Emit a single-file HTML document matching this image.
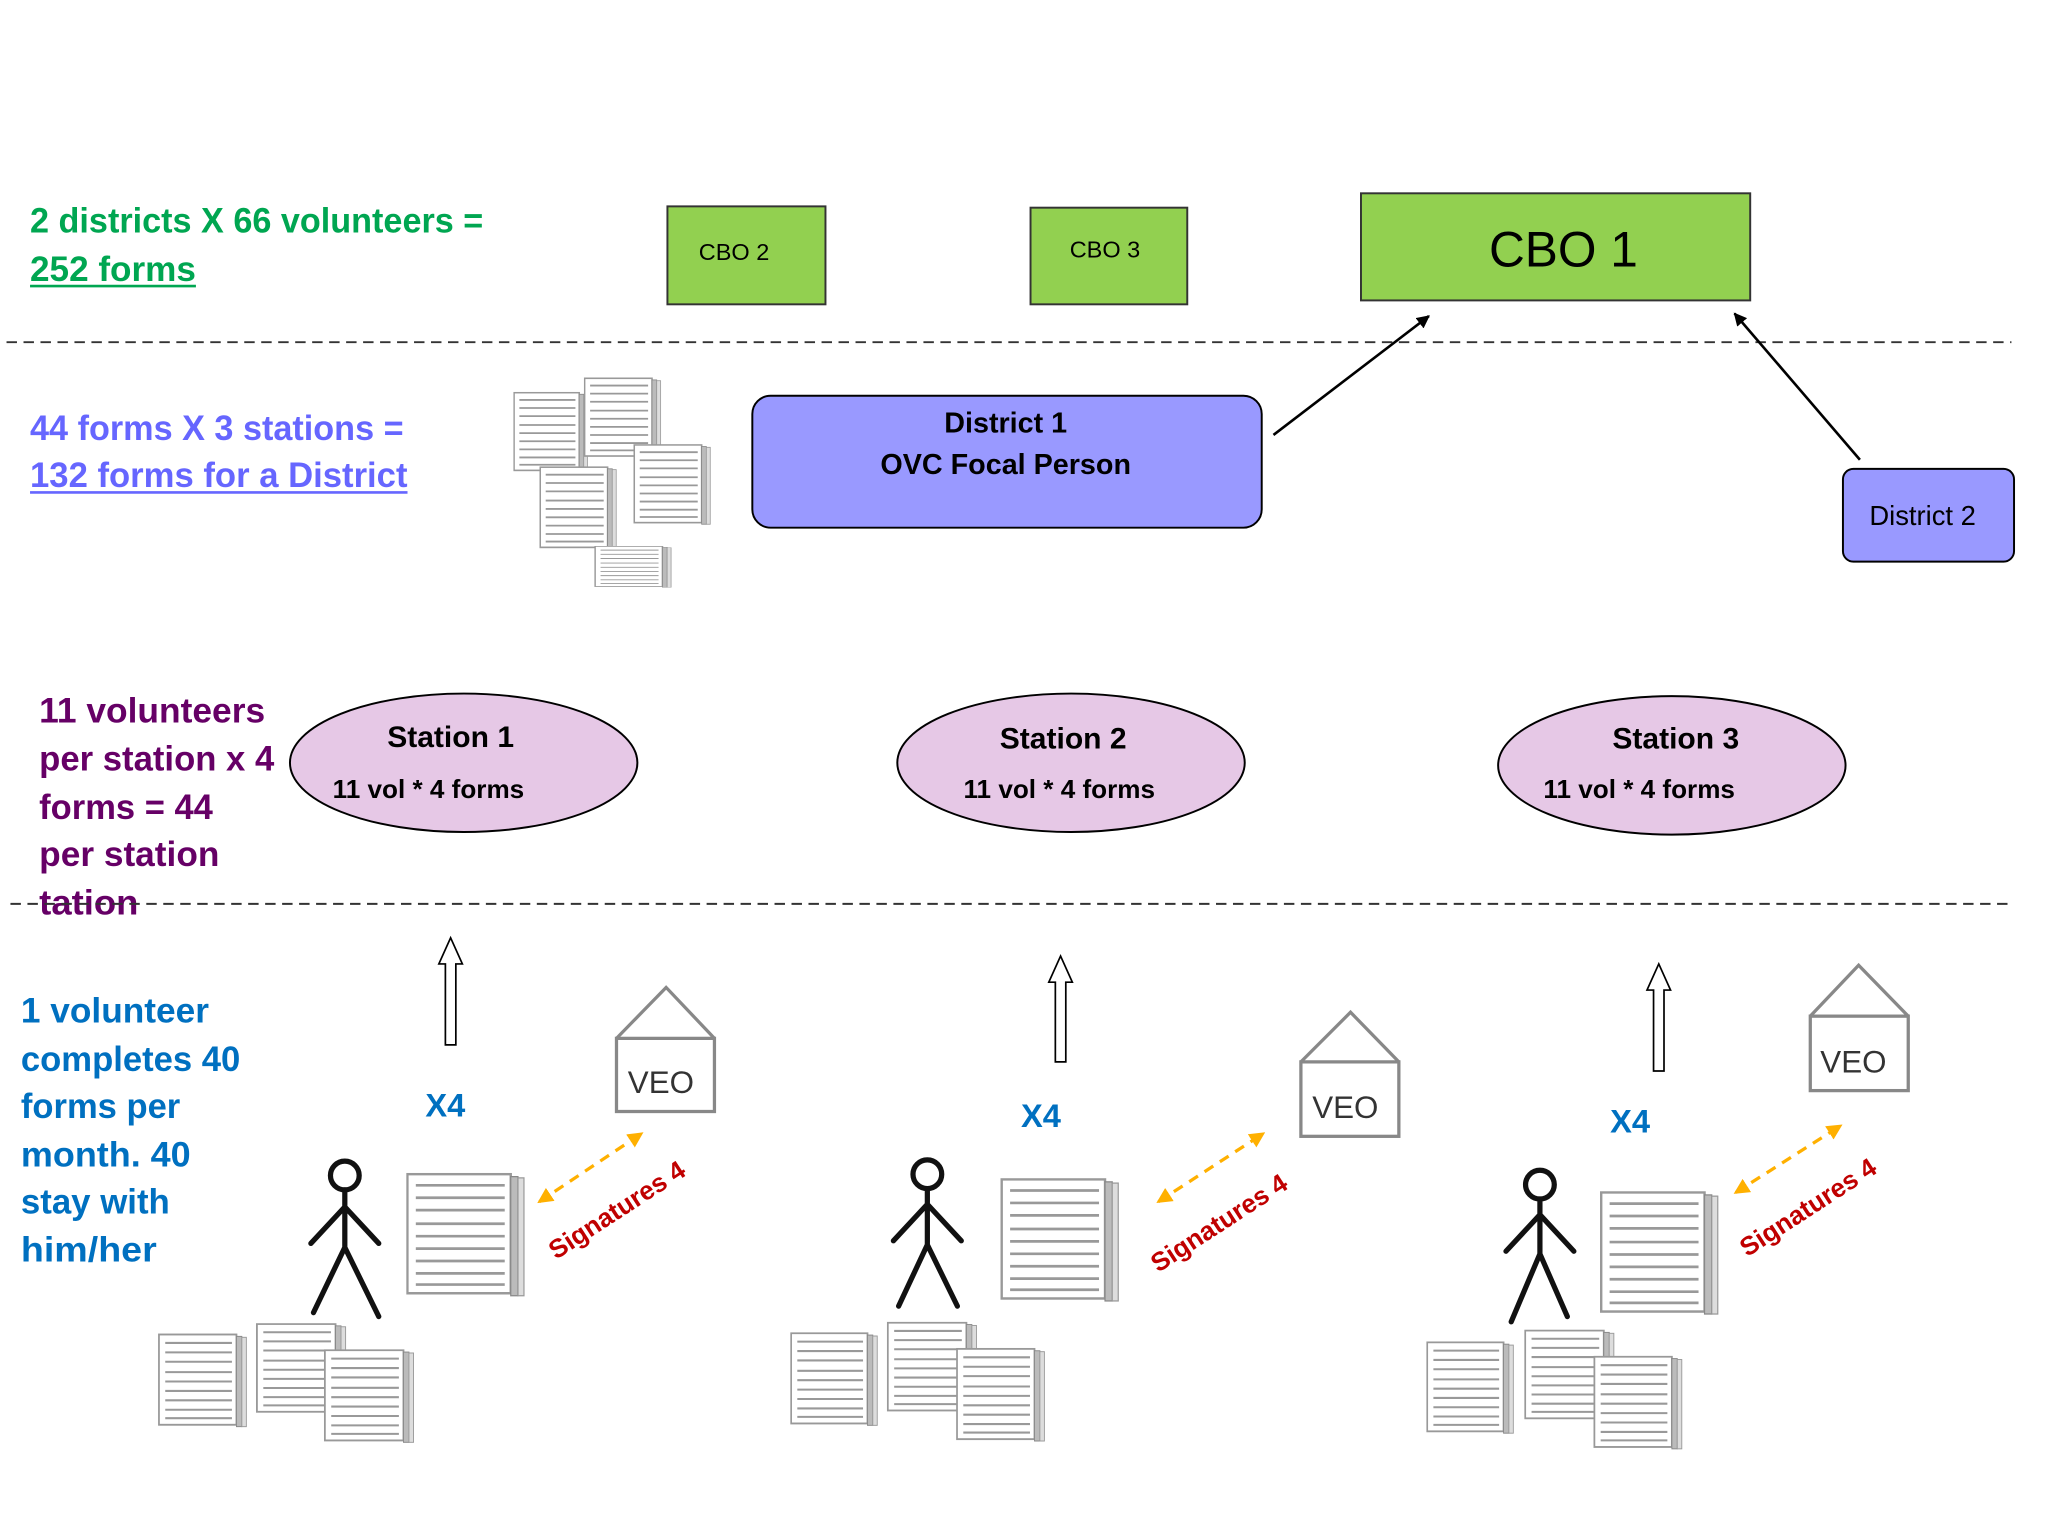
<!DOCTYPE html>
<html><head><meta charset="utf-8"><style>
html,body{margin:0;padding:0;background:#fff;}
svg{display:block;}
text{font-family:"Liberation Sans",sans-serif;}
</style></head><body>
<svg width="2048" height="1536" viewBox="0 0 1568 1176" xmlns="http://www.w3.org/2000/svg">
<defs>
<symbol id="doc" viewBox="0 0 100 100" preserveAspectRatio="none">
<rect x="1" y="1" width="86" height="96" fill="#fff" stroke="#999" stroke-width="2"/>
<g stroke="#999" stroke-width="2.2">
<line x1="8" y1="10" x2="82" y2="10"/><line x1="8" y1="20" x2="82" y2="20"/><line x1="8" y1="30" x2="82" y2="30"/>
<line x1="8" y1="41" x2="82" y2="41"/><line x1="8" y1="51" x2="82" y2="51"/><line x1="8" y1="61" x2="82" y2="61"/>
<line x1="8" y1="71" x2="82" y2="71"/><line x1="8" y1="81" x2="82" y2="81"/><line x1="8" y1="90" x2="82" y2="90"/>
</g>
<rect x="87" y="3" width="6" height="96" fill="#bbb" stroke="#888" stroke-width="1"/>
<rect x="93" y="4" width="5" height="95" fill="#ddd" stroke="#999" stroke-width="1"/>
</symbol>
<marker id="ah" markerWidth="10" markerHeight="10" refX="9" refY="5" orient="auto" markerUnits="userSpaceOnUse"><path d="M0,0 L10,5 L0,10 z" fill="#000"/></marker>
<marker id="oa" markerWidth="12" markerHeight="12" refX="10" refY="6" orient="auto-start-reverse" markerUnits="userSpaceOnUse"><path d="M0,0 L12,6 L0,12 z" fill="#ffb000"/></marker>
</defs>

<!-- top texts -->
<g font-weight="bold" font-size="27">
<text x="23" y="178" fill="#00a651" textLength="347" lengthAdjust="spacingAndGlyphs">2 districts X 66 volunteers =</text>
<text x="23" y="215" fill="#00a651" textLength="127" lengthAdjust="spacingAndGlyphs">252 forms</text>
<line x1="23" y1="219" x2="150" y2="219" stroke="#00a651" stroke-width="2"/>
<text x="23" y="337" fill="#6666ff" textLength="286" lengthAdjust="spacingAndGlyphs">44 forms X 3 stations =</text>
<text x="23" y="373" fill="#6666ff" textLength="289" lengthAdjust="spacingAndGlyphs">132 forms for a District</text>
<line x1="23" y1="377" x2="312" y2="377" stroke="#6666ff" stroke-width="2"/>
<g fill="#660066">
<text x="30" y="553" textLength="173" lengthAdjust="spacingAndGlyphs">11 volunteers</text>
<text x="30" y="590" textLength="180" lengthAdjust="spacingAndGlyphs">per station x 4</text>
<text x="30" y="627" textLength="133" lengthAdjust="spacingAndGlyphs">forms = 44</text>
<text x="30" y="663" textLength="138" lengthAdjust="spacingAndGlyphs">per station</text>
<text x="30" y="700" textLength="76" lengthAdjust="spacingAndGlyphs">tation</text>
</g>
<g fill="#0070c0">
<text x="16" y="783" textLength="144" lengthAdjust="spacingAndGlyphs">1 volunteer</text>
<text x="16" y="820" textLength="168" lengthAdjust="spacingAndGlyphs">completes 40</text>
<text x="16" y="856" textLength="122" lengthAdjust="spacingAndGlyphs">forms per</text>
<text x="16" y="893" textLength="130" lengthAdjust="spacingAndGlyphs">month. 40</text>
<text x="16" y="929" textLength="114" lengthAdjust="spacingAndGlyphs">stay with</text>
<text x="16" y="966" textLength="104" lengthAdjust="spacingAndGlyphs">him/her</text>
</g>
</g>

<!-- dashed lines -->
<line x1="5" y1="262" x2="1540" y2="262" stroke="#333" stroke-width="1.5" stroke-dasharray="8,5"/>
<line x1="8" y1="692" x2="1542" y2="692" stroke="#333" stroke-width="1.5" stroke-dasharray="8,5"/>

<!-- CBOs -->
<rect x="511" y="158" width="121" height="75" fill="#92d050" stroke="#333" stroke-width="1.5"/>
<text x="562" y="199" font-size="18" text-anchor="middle">CBO 2</text>
<rect x="789" y="159" width="120" height="74" fill="#92d050" stroke="#333" stroke-width="1.5"/>
<text x="846" y="197" font-size="18" text-anchor="middle">CBO 3</text>
<rect x="1042" y="148" width="298" height="82" fill="#92d050" stroke="#333" stroke-width="1.5"/>
<text x="1197" y="204" font-size="38" text-anchor="middle">CBO 1</text>

<!-- districts -->
<rect x="576" y="303" width="390" height="101" rx="14" fill="#9999ff" stroke="#000" stroke-width="1.5"/>
<text x="770" y="331" font-size="22" font-weight="bold" text-anchor="middle">District 1</text>
<text x="770" y="363" font-size="22" font-weight="bold" text-anchor="middle">OVC Focal Person</text>
<rect x="1411" y="359" width="131" height="71" rx="8" fill="#9999ff" stroke="#000" stroke-width="1.5"/>
<text x="1472" y="402" font-size="21" text-anchor="middle">District 2</text>
<line x1="975" y1="333" x2="1094" y2="242" stroke="#000" stroke-width="2" marker-end="url(#ah)"/>
<line x1="1424" y1="352" x2="1328" y2="240" stroke="#000" stroke-width="2" marker-end="url(#ah)"/>

<!-- doc cluster -->
<use href="#doc" x="393" y="300" width="58" height="62"/>
<use href="#doc" x="447" y="289" width="60" height="62"/>
<use href="#doc" x="485" y="340" width="60" height="62"/>
<use href="#doc" x="413" y="357" width="60" height="64"/>
<use href="#doc" x="455" y="418" width="60" height="32"/>

<!-- stations -->
<g fill="#e6c8e6" stroke="#000" stroke-width="1.5">
<ellipse cx="355" cy="584" rx="133" ry="53"/>
<ellipse cx="820" cy="584" rx="133" ry="53"/>
<ellipse cx="1280" cy="586" rx="133" ry="53"/>
</g>
<g font-weight="bold" text-anchor="middle">
<text x="345" y="572" font-size="23">Station 1</text><text x="328" y="611" font-size="20">11 vol * 4 forms</text>
<text x="814" y="573" font-size="23">Station 2</text><text x="811" y="611" font-size="20">11 vol * 4 forms</text>
<text x="1283" y="573" font-size="23">Station 3</text><text x="1255" y="611" font-size="20">11 vol * 4 forms</text>
</g>

<!-- up arrows -->
<g fill="#fff" stroke="#000" stroke-width="1.3">
<path d="M341,800 L349,800 L349,738 L354,738 L345,718 L336,738 L341,738 Z"/>
<path d="M808,813 L816,813 L816,752 L821,752 L812,732 L803,752 L808,752 Z"/>
<path d="M1266,820 L1274,820 L1274,758 L1279,758 L1270,738 L1261,758 L1266,758 Z"/>
</g>
<g fill="#0070c0" font-weight="bold" font-size="25" text-anchor="middle">
<text x="341" y="855">X4</text><text x="797" y="863">X4</text><text x="1248" y="867">X4</text>
</g>

<!-- VEO houses -->
<g fill="#fff" stroke="#888" stroke-width="2.5">
<path d="M472,795 L510,756 L547,795"/><rect x="472" y="795" width="75" height="56"/>
<path d="M996,813 L1034,775 L1071,813"/><rect x="996" y="813" width="75" height="57"/>
<path d="M1386,778 L1423,739 L1461,778"/><rect x="1386" y="778" width="75" height="57"/>
</g>
<g font-size="24" text-anchor="middle" fill="#333">
<text x="506" y="837">VEO</text><text x="1030" y="856">VEO</text><text x="1419" y="821">VEO</text>
</g>

<!-- persons -->
<g fill="none" stroke="#111" stroke-width="4" stroke-linecap="round">
<circle cx="264" cy="900" r="11"/><path d="M264,911 L264,955 M264,924 L238,952 M264,924 L290,952 M264,955 L240,1005 M264,955 L290,1008"/>
<circle cx="710" cy="899" r="11"/><path d="M710,910 L710,953 M710,922 L684,950 M710,922 L736,950 M710,953 L688,1000 M710,953 L733,1000"/>
<circle cx="1179" cy="907" r="11"/><path d="M1179,918 L1179,960 M1179,930 L1153,958 M1179,930 L1205,958 M1179,960 L1157,1012 M1179,960 L1200,1008"/>
</g>

<!-- docs near persons -->
<use href="#doc" x="311" y="898" width="92" height="95"/>
<use href="#doc" x="766" y="902" width="92" height="95"/>
<use href="#doc" x="1225" y="912" width="92" height="95"/>

<use href="#doc" x="121" y="1021" width="69" height="72"/>
<use href="#doc" x="196" y="1013" width="70" height="70"/>
<use href="#doc" x="248" y="1033" width="70" height="72"/>
<use href="#doc" x="605" y="1020" width="68" height="72"/>
<use href="#doc" x="679" y="1012" width="70" height="70"/>
<use href="#doc" x="732" y="1032" width="69" height="72"/>
<use href="#doc" x="1092" y="1027" width="68" height="71"/>
<use href="#doc" x="1167" y="1018" width="70" height="70"/>
<use href="#doc" x="1220" y="1038" width="69" height="72"/>

<!-- signature arrows -->
<g stroke="#ffb000" stroke-width="2.5" stroke-dasharray="8,6" fill="none">
<line x1="413" y1="920" x2="491" y2="868" marker-start="url(#oa)" marker-end="url(#oa)"/>
<line x1="887" y1="920" x2="967" y2="868" marker-start="url(#oa)" marker-end="url(#oa)"/>
<line x1="1329" y1="913" x2="1409" y2="862" marker-start="url(#oa)" marker-end="url(#oa)"/>
</g>
<g fill="#c00000" font-weight="bold" font-size="20" text-anchor="middle">
<text transform="translate(476,932) rotate(-33)">Signatures 4</text>
<text transform="translate(937,942) rotate(-33)">Signatures 4</text>
<text transform="translate(1388,930) rotate(-33)">Signatures 4</text>
</g>
</svg>
</body></html>
